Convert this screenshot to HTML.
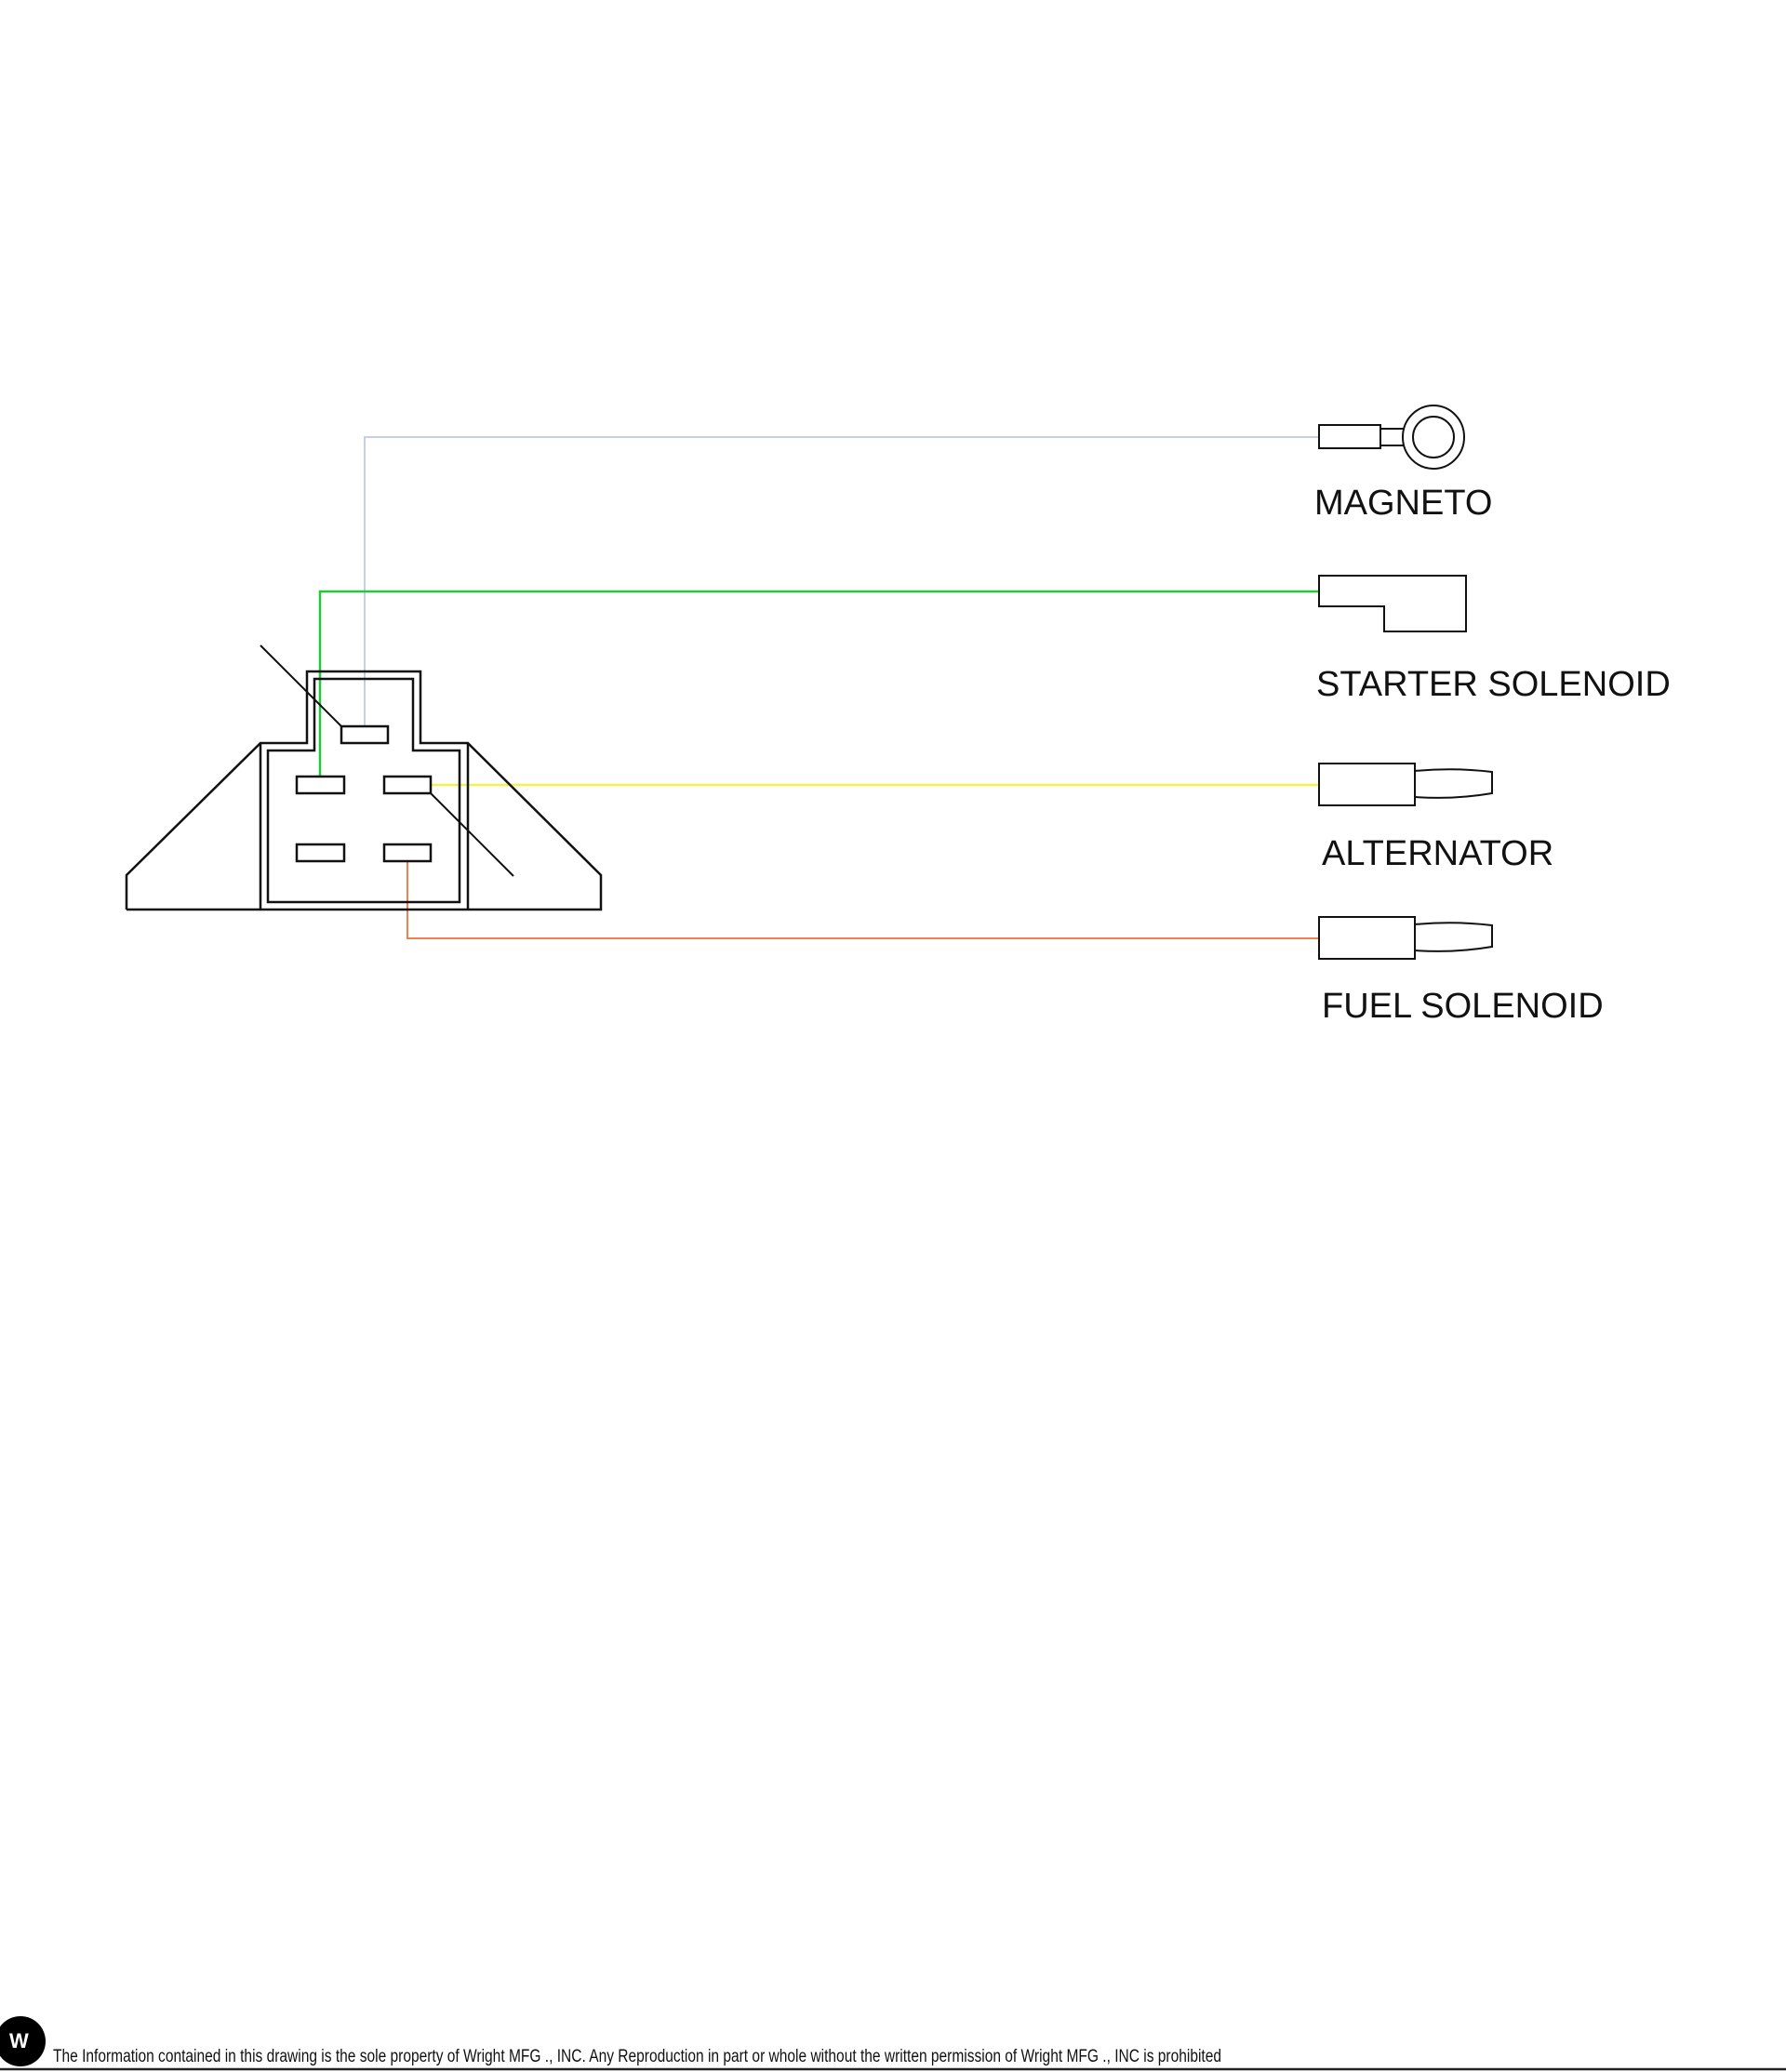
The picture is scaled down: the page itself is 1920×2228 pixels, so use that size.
<!DOCTYPE html>
<html><head><meta charset="utf-8"><style>
html,body{margin:0;padding:0;background:#fff;width:1920px;height:2228px;overflow:hidden}
svg{display:block}
</style></head><body>
<svg width="1920" height="2228" viewBox="0 0 1920 2228" xmlns="http://www.w3.org/2000/svg">
<g fill="none" stroke-linejoin="miter">
<!-- wires -->
<polyline points="392,781 392,470 1418,470" stroke="#c8cde8" stroke-width="2"/>
<polyline points="344,835 344,636 1418,636" stroke="#22c83a" stroke-width="2.5"/>
<polyline points="463,844 1418,844" stroke="#f5f04a" stroke-width="2.5"/>
<polyline points="438,926 438,1009 1418,1009" stroke="#f08050" stroke-width="2"/>
<!-- connector body -->
<g stroke="#111" stroke-width="2.5">
<polyline points="136,978 136,941 280,799 330,799 330,722 452,722 452,799 503,799 646,941 646,978 136,978"/>
<line x1="280" y1="799" x2="280" y2="978"/>
<line x1="503" y1="799" x2="503" y2="978"/>
<polygon points="288,807 338,807 338,730 444,730 444,807 494,807 494,970 288,970"/>
<rect x="367" y="781" width="50" height="18"/>
<rect x="319" y="835" width="51" height="18"/>
<rect x="413" y="835" width="50" height="18"/>
<rect x="319" y="908" width="51" height="18"/>
<rect x="413" y="908" width="50" height="18"/>
<line x1="280" y1="694" x2="367" y2="781" stroke-width="2"/>
<line x1="463" y1="853" x2="552" y2="942" stroke-width="2"/>
</g>
<!-- terminals -->
<g stroke="#111" stroke-width="2">
<rect x="1418" y="457" width="66" height="25"/>
<path d="M1484,461 L1509,461 M1484,479 L1509,479"/>
<ellipse cx="1541" cy="470" rx="33" ry="34"/>
<circle cx="1541" cy="470" r="22"/>
<polygon points="1418,619 1576,619 1576,679 1488,679 1488,652 1418,652"/>
<rect x="1418" y="821" width="103" height="45"/>
<path d="M1521,829 Q1563,825 1604,830 L1604,853 Q1563,860 1521,857"/>
<rect x="1418" y="986" width="103" height="45"/>
<path d="M1521,994 Q1563,990 1604,995 L1604,1018 Q1563,1025 1521,1022"/>
</g>
</g>
<g font-family="'Liberation Sans', Arial, sans-serif" font-size="38" fill="#111">
<text x="1413" y="553">MAGNETO</text>
<text x="1415" y="748">STARTER SOLENOID</text>
<text x="1421" y="930">ALTERNATOR</text>
<text x="1421" y="1094">FUEL SOLENOID</text>
</g>
<!-- footer -->
<circle cx="22" cy="2195" r="27" fill="#000"/>
<text x="10" y="2202" font-family="'Liberation Sans', sans-serif" font-weight="bold" font-size="22" fill="#fff">W</text>
<text x="57" y="2217" font-family="'Liberation Sans Narrow','Liberation Sans', sans-serif" font-size="19" fill="#111" textLength="1256" lengthAdjust="spacingAndGlyphs">The Information contained in this drawing is the sole property of Wright MFG ., INC. Any Reproduction in part or whole without the written permission of Wright MFG ., INC is prohibited</text>
<line x1="0" y1="2225" x2="1920" y2="2225" stroke="#222" stroke-width="2.5"/>
</svg>
</body></html>
